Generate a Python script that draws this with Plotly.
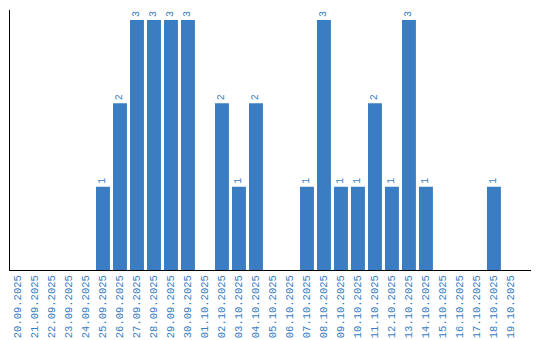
import plotly.graph_objects as go

dates = ["20.09.2025", "21.09.2025", "22.09.2025", "23.09.2025", "24.09.2025",
         "25.09.2025", "26.09.2025", "27.09.2025", "28.09.2025", "29.09.2025",
         "30.09.2025", "01.10.2025", "02.10.2025", "03.10.2025", "04.10.2025",
         "05.10.2025", "06.10.2025", "07.10.2025", "08.10.2025", "09.10.2025",
         "10.10.2025", "11.10.2025", "12.10.2025", "13.10.2025", "14.10.2025",
         "15.10.2025", "16.10.2025", "17.10.2025", "18.10.2025", "19.10.2025"]
counts = [0, 0, 0, 0, 0, 1, 2, 3, 3, 3, 3, 0, 2, 1, 2, 0, 0, 1, 3, 1, 1, 2, 1, 3, 1, 0, 0, 0, 1, 0]

bar_color = "#3a7dc2"
text_color = "#3a7dc2"
labels = [str(v) if v > 0 else "" for v in counts]

x_idx = list(range(len(dates)))

fig = go.Figure(go.Bar(
    x=x_idx, y=counts, text=labels, textposition="outside", textangle=-90,
    marker=dict(color=bar_color, line=dict(width=0)),
    textfont=dict(family="Liberation Mono", size=10, color=text_color),
    cliponaxis=False,
))
fig.update_layout(
    width=540, height=340,
    margin=dict(l=10, r=9, t=10, b=70, autoexpand=False),
    paper_bgcolor="white", plot_bgcolor="white",
    bargap=0.18, showlegend=False,
)
fig.update_xaxes(
    tickmode="array", tickvals=x_idx, ticktext=dates, tickangle=-90,
    range=[-0.47, 30.18], showgrid=False, zeroline=False, automargin=False,
    showline=True, linecolor="black", linewidth=1, ticks="",
    tickfont=dict(family="Liberation Mono", size=10.5, color=text_color),
)
fig.update_yaxes(
    range=[0, 3.12], showgrid=False, zeroline=False, showticklabels=False,
    showline=True, linecolor="black", linewidth=1, ticks="", automargin=False,
)
fig.write_html("out.html")
